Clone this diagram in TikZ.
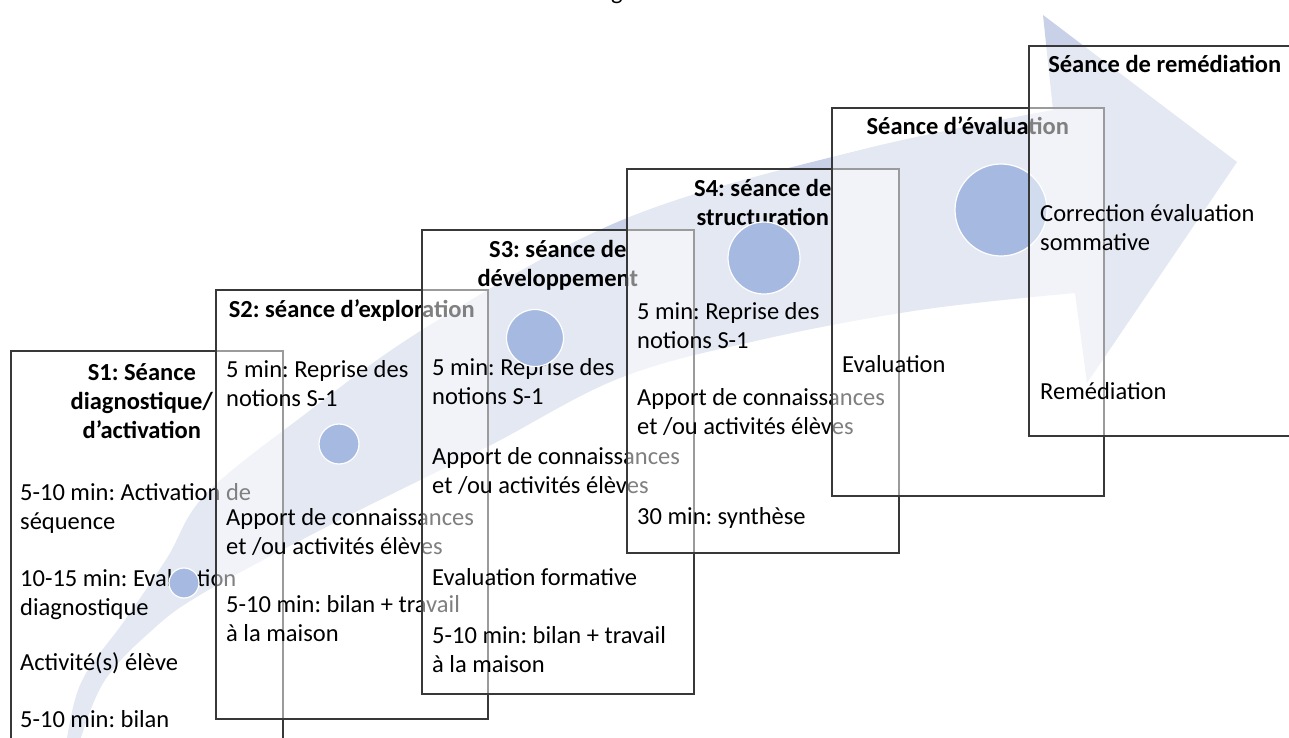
\documentclass[tikz,border=0pt]{standalone}
\usepackage{fontspec}
\setmainfont{Carlito}
\usetikzlibrary{calc}
\usetikzlibrary{positioning}
\definecolor{arrowBlue}{HTML}{C9D1E8}
\definecolor{dotBlue}{HTML}{A6B9E0}
\definecolor{boxLine}{HTML}{383838}
\newcommand{\seqfont}{\fontsize{24.5}{29}\selectfont\frenchspacing}
\tikzstyle{seancebox} = [draw=boxLine, line width=1.6pt, fill=white, fill opacity=0.5, rectangle, minimum width=272pt, anchor=north west, inner sep=0pt]
\tikzstyle{titlenode} = [font=\seqfont\bfseries, align=center, anchor=north, inner sep=0pt]
\tikzstyle{bodynode} = [font=\seqfont, align=left, anchor=north west, inner sep=0pt]
\tikzstyle{dotnode} = [circle, fill=dotBlue, draw=white, line width=1.2pt, inner sep=0pt]

\begin{document}
\begin{tikzpicture}[x=1pt, y=-1pt]
\useasboundingbox (0,0) rectangle (1289,737);

% cut-off caption above the figure
\node[font=\seqfont, anchor=base, inner sep=0pt] (topcaption) at (617,-1) {g};

% big curved arrow behind everything
\fill[arrowBlue] plot[smooth, tension=0.6] coordinates {(64,760) (80,685) (125,620) (167,558) (205,495) (300,418) (430,325) (627,218) (860,150) (1053,110)}
    -- (1043,15) -- (1237,162) -- (1087,383) -- (1075,293)
    -- plot[smooth, tension=0.6] coordinates {(1075,293) (920,310) (760,340) (620,378) (487,447) (340,520) (205,592) (150,632) (102,685) (74,760)} -- cycle;

% S1
\node[seancebox, minimum height=440pt] (s1box) at (10,350) {};
\node[titlenode] (s1title) at ($(s1box.north)+(-5,9.7)$) {\strut S1: Séance\\ diagnostique/\\ d’activation};
\node[bodynode] (s1body) at ($(s1box.north west)+(10,129.7)$) {\strut 5-10 min: Activation de\\ séquence\\[28pt] 10-15 min: Evaluation\\ diagnostique\\[26pt] Activité(s) élève\\[28pt] 5-10 min: bilan};
\node[dotnode, minimum size=30pt] (dot1) at (184,583) {};

% S2
\node[seancebox, minimum height=429pt] (s2box) at (215,289) {};
\node[titlenode] (s2title) at ($(s2box.north)+(0,7.7)$) {\strut S2: séance d’exploration};
\node[bodynode] (s2body) at ($(s2box.north west)+(11,67.7)$) {\strut 5 min: Reprise des\\ notions S-1\\[90pt] Apport de connaissances\\ et /ou activités élèves\\[29pt] 5-10 min: bilan + travail\\ à la maison};
\node[dotnode, minimum size=40pt] (dot2) at (339,444) {};

% S3
\node[seancebox, minimum height=464pt] (s3box) at (421,229) {};
\node[titlenode] (s3title) at ($(s3box.north)+(0,7.7)$) {\strut S3: séance de\\ développement};
\node[bodynode] (s3body) at ($(s3box.north west)+(11,125.7)$) {\strut 5 min: Reprise des\\ notions S-1\\[31pt] Apport de connaissances\\ et /ou activités élèves\\[63pt] Evaluation formative\\[29pt] 5-10 min: bilan + travail\\ à la maison};
\node[dotnode, minimum size=57pt] (dot3) at (535,338) {};

% S4
\node[seancebox, minimum height=384pt] (s4box) at (626,168) {};
\node[titlenode] (s4title) at ($(s4box.north)+(0,7.7)$) {\strut S4: séance de\\ structuration};
\node[bodynode] (s4body) at ($(s4box.north west)+(11,130.7)$) {\strut 5 min: Reprise des\\ notions S-1\\[28pt] Apport de connaissances\\ et /ou activités élèves\\[61pt] 30 min: synthèse};
\node[dotnode, minimum size=72pt] (dot4) at (764,258) {};

% evaluation
\node[seancebox, minimum height=388pt] (evalbox) at (831,107) {};
\node[titlenode] (evaltitle) at ($(evalbox.north)+(0,6.7)$) {\strut Séance d’évaluation};
\node[bodynode] (evalbody) at ($(evalbox.north west)+(11,244.7)$) {\strut Evaluation};
\node[dotnode, minimum size=92pt] (dot5) at (1001,210) {};

% remediation
\node[seancebox, minimum height=390pt] (remedbox) at (1028,45) {};
\node[titlenode] (remedtitle) at ($(remedbox.north)+(0,6.7)$) {\strut Séance de remédiation};
\node[bodynode] (remedbody) at ($(remedbox.north west)+(12,155.7)$) {\strut Correction évaluation\\ sommative\\[120pt] Remédiation};
\end{tikzpicture}
\end{document}
